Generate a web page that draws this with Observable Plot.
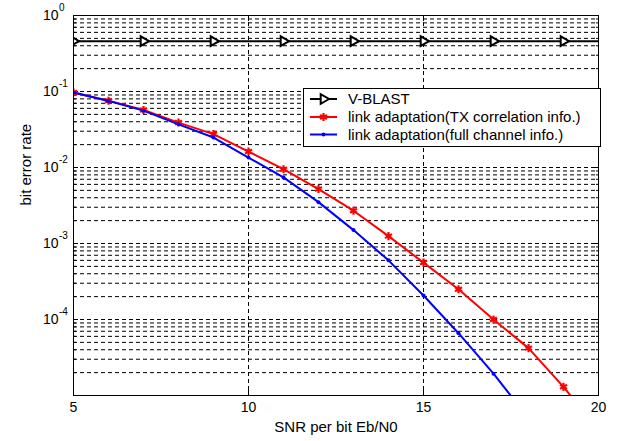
<!DOCTYPE html>
<html>
<head>
<meta charset="utf-8">
<script src="https://cdn.jsdelivr.net/npm/d3@7"></script>
<script src="https://cdn.jsdelivr.net/npm/@observablehq/plot@0.6"></script>
<style>
  html, body { margin: 0; padding: 0; background: #fff; }
  #chart { width: 629px; height: 441px; }
</style>
</head>
<body>
<div id="chart"></div>
<script>
// ---- data ----
const snrVblast = [5, 7, 9, 11, 13, 15, 17, 19, 21];
const berVblast = [0.46, 0.46, 0.46, 0.46, 0.46, 0.46, 0.46, 0.46, 0.46];

const snrTx = [5, 6, 7, 8, 9, 10, 11, 12, 13, 14, 15, 16, 17, 18, 19, 20];
const berTx = [0.097, 0.0757, 0.057, 0.039, 0.0275, 0.0162, 0.0095, 0.0052, 0.0027, 0.00125, 0.00056, 0.00025, 0.0001, 0.000042, 0.000013, 0.0000035];

const snrFull = [5, 6, 7, 8, 9, 10, 11, 12, 13, 14, 15, 16, 17, 18];
const berFull = [0.097, 0.0752, 0.056, 0.037, 0.0248, 0.0135, 0.0074, 0.0035, 0.0015, 0.0006, 0.000207, 0.000066, 0.0000194, 0.000005];

const seriesNames = ["V-BLAST", "link adaptation(TX correlation info.)", "link adaptation(full channel info.)"];

const xTicks = [5, 10, 15, 20];
const xGrid = [10, 15];
const yDecades = [1e-5, 1e-4, 1e-3, 1e-2, 1e-1, 1];
const yLabelTicks = [1, 1e-1, 1e-2, 1e-3, 1e-4];
const yLabelExp = ["0", "-1", "-2", "-3", "-4"];
const yMantissas = [2, 3, 4, 5, 6, 7, 8, 9];
const xLabel = "SNR per bit Eb/N0";
const yLabel = "bit error rate";

// ---- tables ----
const vblast = snrVblast.map((x, i) => ({x, y: berVblast[i]}));
const tx = snrTx.map((x, i) => ({x, y: berTx[i]}));
const full = snrFull.map((x, i) => ({x, y: berFull[i]}));
const yMinor = yDecades.slice(0, -1).flatMap(d => yMantissas.map(m => m * d));
const yMajorInner = yDecades.slice(1, -1);
const yLabelData = yLabelTicks.map((v, i) => ({v, e: yLabelExp[i]}));

const FONT = "'Liberation Sans', Arial, Helvetica, sans-serif";
const dash = "4,3";

const svg = Plot.plot({
  width: 629,
  height: 441,
  marginLeft: 73,
  marginRight: 31,
  marginTop: 15,
  marginBottom: 46,
  style: {fontFamily: FONT, background: "#fff", color: "#000", overflow: "visible"},
  x: {domain: [5, 20]},
  y: {type: "log", domain: [1e-5, 1]},
  marks: [
    // grid
    Plot.ruleY(yMinor, {stroke: "#000", strokeWidth: 1, strokeDasharray: dash}),
    Plot.ruleY(yMajorInner, {stroke: "#000", strokeWidth: 1, strokeDasharray: dash}),
    Plot.ruleX(xGrid, {stroke: "#000", strokeWidth: 1, strokeDasharray: dash}),
    // inward ticks
    Plot.axisY(yDecades, {anchor: "left", tickSize: -5, tickFormat: () => "", label: null}),
    Plot.axisY(yDecades, {anchor: "right", tickSize: -5, tickFormat: () => "", label: null}),
    Plot.axisY(yMinor, {anchor: "left", tickSize: -3, tickFormat: () => "", label: null}),
    Plot.axisY(yMinor, {anchor: "right", tickSize: -3, tickFormat: () => "", label: null}),
    Plot.axisX(xTicks, {anchor: "bottom", tickSize: -5, tickFormat: () => "", label: null}),
    Plot.axisX(xTicks, {anchor: "top", tickSize: -5, tickFormat: () => "", label: null}),
    // tick labels
    Plot.text(xTicks, {x: d => d, text: d => String(d), frameAnchor: "bottom", dy: 12, lineAnchor: "middle", fontSize: 14}),
    Plot.text(yLabelData, {y: "v", text: () => "10", frameAnchor: "left", textAnchor: "end", dx: -15, fontSize: 14}),
    Plot.text(yLabelData, {y: "v", text: "e", frameAnchor: "left", textAnchor: "start", dx: -14.5, dy: -8, fontSize: 10}),
    // axis labels
    Plot.text([xLabel], {text: d => d, frameAnchor: "bottom", dy: 32, lineAnchor: "middle", fontSize: 15}),
    Plot.text([yLabel], {text: d => d, frameAnchor: "left", dx: -47, rotate: -90, fontSize: 15}),
    // series
    Plot.line(vblast, {x: "x", y: "y", stroke: "#000", strokeWidth: 2, clip: true}),
    Plot.dot(vblast, {x: "x", y: "y", symbol: "triangle", rotate: 90, r: 3.6, stroke: "#000", fill: "#fff", strokeWidth: 2, clip: true}),
    Plot.line(tx, {x: "x", y: "y", stroke: "#ff0000", strokeWidth: 2, clip: true}),
    Plot.dot(tx, {x: "x", y: "y", symbol: "asterisk", r: 3.8, stroke: "#ff0000", strokeWidth: 2.2, clip: true}),
    Plot.line(full, {x: "x", y: "y", stroke: "#0000ff", strokeWidth: 2, clip: true}),
    Plot.dot(full, {x: "x", y: "y", r: 2, fill: "#0000ff", stroke: "none", clip: true}),
    Plot.frame({stroke: "#000", strokeWidth: 1})
  ]
});

// legend
const g = d3.select(svg).append("g").attr("font-family", FONT).attr("font-size", 15).attr("text-anchor", "start");
g.append("rect").attr("x", 303.5).attr("y", 88.5).attr("width", 297).attr("height", 58)
  .attr("fill", "#fff").attr("stroke", "#000").attr("stroke-width", 1);
const rowsY = [99, 117, 134.5];
const colors = ["#000", "#ff0000", "#0000ff"];
rowsY.forEach((yy, i) => {
  g.append("line").attr("x1", 310).attr("x2", 337).attr("y1", yy).attr("y2", yy)
    .attr("stroke", colors[i]).attr("stroke-width", 2);
  if (i === 0) {
    const s = d3.symbol(d3.symbolTriangle, Math.PI * 3.6 * 3.6)();
    g.append("path").attr("d", s).attr("transform", `translate(323.5,${yy}) rotate(90)`)
      .attr("fill", "#fff").attr("stroke", "#000").attr("stroke-width", 2);
  } else if (i === 1) {
    const s = d3.symbol(d3.symbolAsterisk, Math.PI * 3.8 * 3.8)();
    g.append("path").attr("d", s).attr("transform", `translate(323.5,${yy})`)
      .attr("fill", "none").attr("stroke", "#ff0000").attr("stroke-width", 2.2);
  } else {
    g.append("circle").attr("cx", 323.5).attr("cy", yy).attr("r", 2).attr("fill", "#0000ff");
  }
  g.append("text").attr("x", 348).attr("y", yy).attr("dy", "0.35em").attr("text-anchor", "start")
    .attr("fill", "#000").text(seriesNames[i]);
});

document.getElementById("chart").appendChild(svg);
</script>
</body>
</html>
